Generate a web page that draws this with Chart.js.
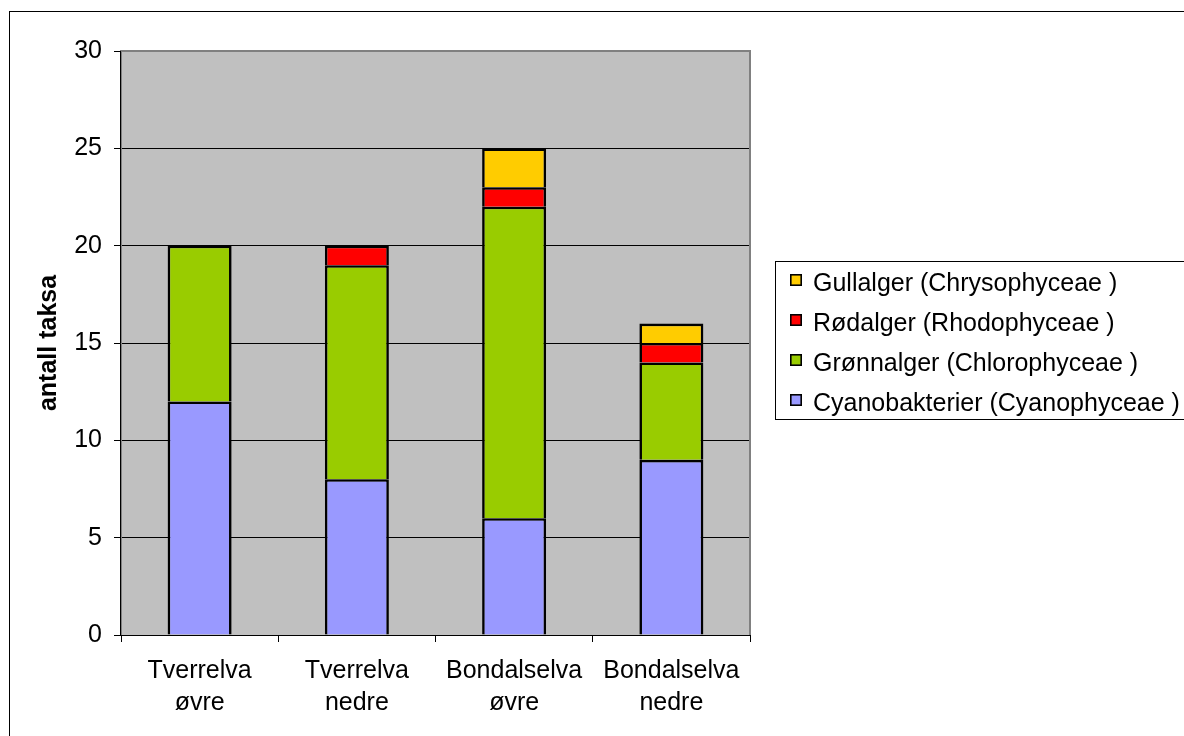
<!DOCTYPE html>
<html><head><meta charset="utf-8">
<script src="https://cdn.jsdelivr.net/npm/chart.js@4/dist/chart.umd.min.js"></script>
<style>html,body{margin:0;padding:0;background:#fff;overflow:hidden}canvas{display:block}</style>
</head><body>
<canvas id="c" width="1184" height="736" style="width:1184px;height:736px"></canvas>
<script>
const categories = [['Tverrelva', 'øvre'], ['Tverrelva', 'nedre'], ['Bondalselva', 'øvre'], ['Bondalselva', 'nedre']];
const seriesNames = ['Cyanobakterier (Cyanophyceae )', 'Grønnalger (Chlorophyceae )', 'Rødalger (Rhodophyceae )', 'Gullalger (Chrysophyceae )'];
const cyano = [12, 8, 6, 9];
const gronn = [8, 11, 16, 5];
const rod = [0, 1, 1, 1];
const gull = [0, 0, 2, 1];
const seriesColors = ['#9999FF', '#99CC00', '#FF0000', '#FFCC00'];
const yTickStep = 5;
const yMin = 0, yMax = 30;
const yTitle = 'antall taksa';

const FONT = "'Liberation Sans', Arial, sans-serif";

const values = [cyano, gronn, rod, gull];
const datasets = values.map((v, i) => ({
  label: seriesNames[i],
  // zero-height segments are not drawn (no stray border line)
  data: v.map(x => (x === 0 ? null : x)),
  backgroundColor: seriesColors[i],
  borderColor: '#000',
  borderWidth: 2.6,
  borderSkipped: 'start',
  categoryPercentage: 0.407,
  barPercentage: 1
}));

const deco = {
  id: 'deco',
  beforeDraw(chart) {
    const {ctx, chartArea: a} = chart;
    ctx.save();
    ctx.fillStyle = '#fff';
    ctx.fillRect(0, 0, chart.width, chart.height);
    ctx.fillStyle = '#C0C0C0';
    ctx.fillRect(a.left, a.top, a.right - a.left, a.bottom - a.top);
    ctx.restore();
  },
  afterDatasetsDraw(chart) {
    const {ctx, chartArea: a} = chart;
    ctx.save();
    ctx.strokeStyle = '#808080';
    ctx.lineWidth = 2;
    ctx.beginPath();
    ctx.moveTo(a.left, a.bottom);
    ctx.lineTo(a.left, a.top);
    ctx.lineTo(a.right, a.top);
    ctx.lineTo(a.right, a.bottom);
    ctx.stroke();
    ctx.strokeStyle = '#000';
    ctx.lineWidth = 1;
    ctx.beginPath();
    ctx.moveTo(a.left - 0.5, a.top);
    ctx.lineTo(a.left - 0.5, a.bottom + 0.5);
    ctx.lineTo(a.right, a.bottom + 0.5);
    ctx.stroke();
    ctx.restore();
  },
  afterDraw(chart) {
    const ctx = chart.ctx;
    ctx.save();
    // outer chart border
    ctx.strokeStyle = '#000';
    ctx.lineWidth = 1;
    ctx.strokeRect(9.5, 11.5, 1300, 900);
    // legend box
    ctx.strokeRect(775.5, 261.5, 600, 158);
    const order = [3, 2, 1, 0];
    ctx.font = '25px ' + FONT;
    ctx.textBaseline = 'alphabetic';
    ctx.textAlign = 'left';
    order.forEach((di, i) => {
      const ds = chart.data.datasets[di];
      const cy = 280 + i * 40;
      ctx.fillStyle = ds.backgroundColor;
      ctx.fillRect(790, cy - 6, 12, 12);
      ctx.strokeStyle = '#000';
      ctx.lineWidth = 1.6;
      ctx.strokeRect(790.8, cy - 5.2, 10.4, 10.4);
      ctx.fillStyle = '#000';
      ctx.fillText(ds.label, 813, 291 + i * 40);
    });
    ctx.restore();
  }
};

new Chart(document.getElementById('c'), {
  type: 'bar',
  data: {labels: categories, datasets},
  options: {
    responsive: false,
    animation: false,
    devicePixelRatio: 1,
    layout: {padding: {left: 0, top: 51, right: 434, bottom: 0}},
    plugins: {legend: {display: false}, tooltip: {enabled: false}},
    scales: {
      x: {
        stacked: true,
        grid: {offset: true, drawOnChartArea: false, drawTicks: true, tickLength: 7, color: '#000', lineWidth: 1},
        border: {display: true, color: '#000', width: 1},
        ticks: {color: '#000', font: {family: FONT, size: 25, lineHeight: 1.28}, padding: 13, maxRotation: 0, autoSkip: false},
        afterFit(s) { s.height = 101; }
      },
      y: {
        stacked: true,
        min: yMin, max: yMax,
        grid: {color: '#000', lineWidth: 1, drawTicks: true, tickLength: 7},
        border: {display: true, color: '#000', width: 1},
        ticks: {stepSize: yTickStep, color: '#000', font: {family: FONT, size: 25}, padding: 12},
        title: {display: true, text: yTitle, color: '#000', font: {family: FONT, size: 25, weight: 'bold'}, padding: {top: 34, bottom: 0}},
        afterFit(s) { s.width = 121; }
      }
    }
  },
  plugins: [deco]
});
</script>
</body></html>
